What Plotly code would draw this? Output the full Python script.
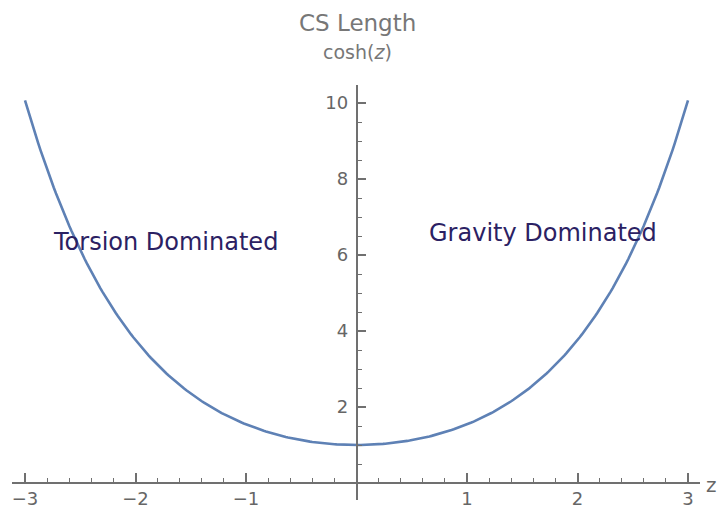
import numpy as np
import plotly.graph_objects as go

# cosh curve sampled over the plotted interval
z_vals = np.linspace(-3, 3, 301)
cs_length = np.cosh(z_vals)

x_ticks = [-3, -2, -1, 1, 2, 3]
y_ticks = [2, 4, 6, 8, 10]

labels = ["Torsion Dominated", "Gravity Dominated"]
label_x = [-1.73, 1.69]
label_y = [6.34, 6.57]

# the page body adds an 8px margin, so the figure is drawn 8px in from the corner
OFF = 8
W, H = 727 - OFF, 509 - OFF


def px(v):
    return v - OFF


# pixel geometry of the axis lines (Mathematica-style axes crossing at origin)
x_px0, x_px1 = px(12), px(700)
y_px_top, y_px_bot = px(85), px(500)
origin_px = (px(356.5), px(483))
unit_x = 110.5
unit_y = 38.0

x_range = [(x_px0 - origin_px[0]) / unit_x, (x_px1 - origin_px[0]) / unit_x]
y_range = [(origin_px[1] - y_px_bot) / unit_y, (origin_px[1] - y_px_top) / unit_y]

tick_font = dict(family="DejaVu Sans", size=18, color="#666666")
axis_col = "#707070"

fig = go.Figure()
fig.add_trace(go.Scatter(
    x=z_vals, y=cs_length,
    mode="lines",
    line=dict(color="#5E81B5", width=2.6),
    hoverinfo="skip",
    cliponaxis=False,
))

for txt, lx, ly in zip(labels, label_x, label_y):
    fig.add_annotation(x=lx, y=ly, text=txt, showarrow=False,
                       xanchor="center", yanchor="middle",
                       font=dict(family="DejaVu Sans", size=24, color="#2b2163"))

fig.add_annotation(xref="paper", yref="paper", x=px(357) / W, y=1 - px(23) / H,
                   text="CS Length", showarrow=False,
                   xanchor="center", yanchor="middle",
                   font=dict(family="DejaVu Sans", size=23, color="#777777"))
fig.add_annotation(xref="paper", yref="paper", x=px(357) / W, y=1 - px(52) / H,
                   text="cosh(<i>z</i>)", showarrow=False,
                   xanchor="center", yanchor="middle",
                   font=dict(family="DejaVu Sans", size=19, color="#777777"))
# axis letter at the right end of the horizontal axis
fig.add_annotation(xref="paper", yref="paper", x=px(704) / W, y=1 - px(485) / H,
                   text="z", showarrow=False,
                   xanchor="left", yanchor="middle",
                   font=dict(family="DejaVu Sans", size=20, color="#666666"))

fig.update_layout(
    template="none",
    width=W, height=H,
    margin=dict(l=0, r=0, t=0, b=0),
    paper_bgcolor="white",
    plot_bgcolor="white",
    showlegend=False,
    xaxis=dict(
        domain=[x_px0 / W, x_px1 / W],
        range=x_range,
        anchor="free",
        position=1 - origin_px[1] / H,
        showgrid=False, zeroline=False,
        showline=True, linecolor=axis_col, linewidth=1.5,
        tickvals=x_ticks,
        ticks="inside", ticklen=9, tickwidth=1.5, tickcolor=axis_col,
        minor=dict(dtick=0.2, tick0=0, ticks="inside", ticklen=4.5,
                   tickwidth=1, tickcolor=axis_col),
        tickfont=tick_font,
        automargin=False,
    ),
    yaxis=dict(
        domain=[1 - y_px_bot / H, 1 - y_px_top / H],
        range=y_range,
        anchor="free",
        position=origin_px[0] / W,
        showgrid=False, zeroline=False,
        showline=True, linecolor=axis_col, linewidth=1.5,
        tickvals=y_ticks,
        ticks="inside", ticklen=9, tickwidth=1.5, tickcolor=axis_col,
        ticklabelstandoff=4,
        minor=dict(dtick=0.5, tick0=0, ticks="inside", ticklen=4.5,
                   tickwidth=1, tickcolor=axis_col),
        tickfont=tick_font,
        automargin=False,
    ),
)

fig.write_html("out.html")
